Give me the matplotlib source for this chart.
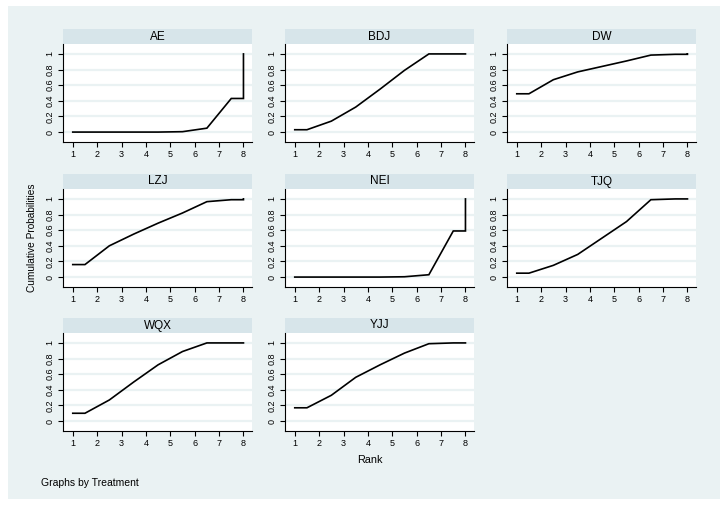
import matplotlib
matplotlib.use("Agg")
import matplotlib.pyplot as plt
from matplotlib.patches import Rectangle

plt.rcParams['font.family'] = ['Liberation Sans', 'DejaVu Sans']

treatments = ["AE", "BDJ", "DW", "LZJ", "NEI", "TJQ", "WQX", "YJJ"]
ranks = [1, 2, 3, 4, 5, 6, 7, 8]
cum_AE  = [0.00, 0.00, 0.00, 0.00, 0.005, 0.05, 0.43, 1.00]
cum_BDJ = [0.03, 0.14, 0.32, 0.55, 0.79, 1.00, 1.00, 1.00]
cum_DW  = [0.49, 0.67, 0.77, 0.84, 0.91, 0.985, 0.995, 1.00]
cum_LZJ = [0.16, 0.40, 0.55, 0.69, 0.82, 0.965, 0.99, 1.00]
cum_NEI = [0.00, 0.00, 0.00, 0.00, 0.004, 0.03, 0.59, 1.00]
cum_TJQ = [0.05, 0.15, 0.29, 0.50, 0.71, 0.99, 1.00, 1.00]
cum_WQX = [0.10, 0.27, 0.50, 0.72, 0.89, 1.00, 1.00, 1.00]
cum_YJJ = [0.17, 0.33, 0.56, 0.72, 0.87, 0.99, 1.00, 1.00]
series = [cum_AE, cum_BDJ, cum_DW, cum_LZJ, cum_NEI, cum_TJQ, cum_WQX, cum_YJJ]
yticks = [0, 0.2, 0.4, 0.6, 0.8, 1]
ytick_labels = ["0", "0.2", "0.4", "0.6", "0.8", "1"]

W, H = 727, 507
fig = plt.figure(figsize=(W / 100, H / 100), dpi=100)
fig.patch.set_facecolor("white")

bg = "#EAF2F3"
strip_col = "#D7E5EA"
bgax = fig.add_axes([8 / W, 1 - 499 / H, (720 - 8) / W, (499 - 6) / H], zorder=-10)
bgax.set_facecolor(bg)
bgax.set_xticks([])
bgax.set_yticks([])
for s in bgax.spines.values():
    s.set_visible(False)

lefts = [63, 285, 507]
tops = [44, 189, 333]
pw, ph = 189, 98
strip_h = 15

for i, (name, cum) in enumerate(zip(treatments, series)):
    r, c = divmod(i, 3)
    l, t = lefts[c], tops[r]
    ax = fig.add_axes([l / W, 1 - (t + ph) / H, pw / W, ph / H])
    ax.set_facecolor("white")
    ax.set_xlim(0.6, 8.35)
    ax.set_ylim(-0.127, 1.127)
    for yv in yticks:
        ax.axhline(yv, color=bg, lw=1.6, zorder=1)
    xs = [ranks[0]]
    ys = [cum[0]]
    for k in range(len(ranks) - 1):
        xs.append(ranks[k] + 0.5)
        ys.append(cum[k])
    xs += [ranks[-1], ranks[-1]]
    ys += [cum[-2], cum[-1]]
    ax.plot(xs, ys, color="black", lw=1.2, zorder=3, solid_joinstyle="miter")
    ax.set_xticks(ranks)
    ax.set_xticklabels([str(v) for v in ranks], fontsize=6.5)
    ax.set_yticks(yticks)
    ax.set_yticklabels(ytick_labels, fontsize=6.5, rotation=90, va="center")
    for s in ["top", "right"]:
        ax.spines[s].set_visible(False)
    for s in ["left", "bottom"]:
        ax.spines[s].set_color("black")
        ax.spines[s].set_linewidth(0.8)
    ax.tick_params(axis="both", length=3.5, width=0.8, color="black", pad=2.5)
    ax.add_patch(Rectangle((0, 1), 1, strip_h / ph, transform=ax.transAxes,
                           facecolor=strip_col, edgecolor="none", clip_on=False))
    ax.text(0.5, 1 + strip_h / ph / 2, name, transform=ax.transAxes,
            ha="center", va="center", fontsize=8.5)

fig.text(32 / W, 1 - 238 / H, "Cumulative Probabilities", rotation=90,
         ha="center", va="center", fontsize=7.3)
fig.text(370 / W, 1 - 460 / H, "Rank", ha="center", va="center", fontsize=7.8)
fig.text(41 / W, 1 - 483 / H, "Graphs by Treatment", ha="left", va="center",
         fontsize=7.5)

fig.savefig("out.png", dpi=100, facecolor="white")
